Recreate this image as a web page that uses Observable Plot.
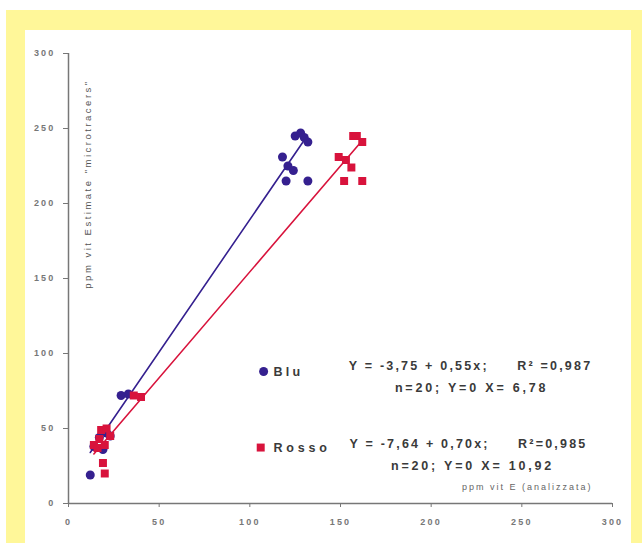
<!DOCTYPE html>
<html>
<head>
<meta charset="utf-8">
<script src="https://cdn.jsdelivr.net/npm/d3@7"></script>
<script src="https://cdn.jsdelivr.net/npm/@observablehq/plot@0.6"></script>
<style>
  html, body { margin: 0; padding: 0; background: #fff; }
  #wrap { position: relative; width: 642px; height: 543px; overflow: hidden; }
  #frame { position: absolute; left: 6px; top: 10px; width: 636px; height: 533px; background: #fff799; }
  #inner { position: absolute; left: 25px; top: 30px; width: 606px; height: 513px; background: #fff; }
  #chart { position: absolute; left: 0; top: 0; }
  #chart svg { background: transparent !important; }
  #chart svg g[aria-label="x-axis tick label"] text,
  #chart svg g[aria-label="y-axis tick label"] text { letter-spacing: 2.2px; }
</style>
</head>
<body>
<div id="wrap">
  <div id="frame"></div>
  <div id="inner"></div>
  <div id="chart"></div>
</div>
<script>
// --- data ---
const bluX = [12, 14, 17, 19, 21, 23, 29, 33, 118, 121, 124, 120, 132, 125, 128, 130, 132];
const bluY = [19, 38, 44, 36, 47, 45, 72, 73, 231, 225, 222, 215, 215, 245, 247, 244, 241];
const rossoX = [20, 19, 14, 16, 17, 18, 21, 23, 20, 36, 40, 149, 153, 156, 152, 162, 157, 159, 162];
const rossoY = [20, 27, 39, 37, 43, 49, 50, 45, 39, 72, 71, 231, 229, 224, 215, 215, 245, 245, 241];
// fitted lines (start, end)
const bluFitX = [12, 131];
const bluFitY = [34, 244];
const rossoFitX = [14, 162];
const rossoFitY = [33, 242];
const tickValues = [0, 50, 100, 150, 200, 250, 300];
const yLabel = 'ppm vit Estimate "microtracers"';
const xLabel = "ppm vit E (analizzata)";
const seriesNames = ["Blu", "Rosso"];
const eqBlu = ["Y = -3,75 + 0,55x;     R\u00b2 =0,987", "n=20; Y=0 X= 6,78"];
const eqRosso = ["Y = -7,64 + 0,70x;     R\u00b2=0,985", "n=20; Y=0 X= 10,92"];

const BLU = "#35208f";
const ROSSO = "#d8133c";

const blu = bluX.map((x, i) => ({x, y: bluY[i]}));
const rosso = rossoX.map((x, i) => ({x, y: rossoY[i]}));
const bluFit = bluFitX.map((x, i) => ({x, y: bluFitY[i]}));
const rossoFit = rossoFitX.map((x, i) => ({x, y: rossoFitY[i]}));

const txt = {fontFamily: "Liberation Sans, Arial, sans-serif", fontWeight: "bold", fill: "#3a3a3a", fontSize: 12.5};

const chart = Plot.plot({
  width: 642,
  height: 543,
  marginLeft: 68,
  marginRight: 30,
  marginTop: 53,
  marginBottom: 40,
  style: {background: "transparent", fontFamily: "Liberation Sans, Arial, sans-serif"},
  x: {domain: [0, 300]},
  y: {domain: [0, 300]},
  marks: [
    Plot.axisX({ticks: tickValues, tickSize: 4, tickPadding: 11, stroke: "#777", fill: "#777", fontSize: 9, fontWeight: "bold", label: null, tickFormat: d => d}),
    Plot.axisY({ticks: tickValues, tickSize: 5, tickPadding: 8, stroke: "#777", fill: "#777", fontSize: 9, fontWeight: "bold", label: null, tickFormat: d => d}),
    Plot.ruleY([0], {stroke: "#777", strokeWidth: 1.5}),
    Plot.ruleX([0], {stroke: "#777", strokeWidth: 1.5}),
    Plot.line(bluFit, {x: "x", y: "y", stroke: BLU, strokeWidth: 1.6}),
    Plot.line(rossoFit, {x: "x", y: "y", stroke: ROSSO, strokeWidth: 1.6}),
    Plot.dot(blu, {x: "x", y: "y", r: 4.5, fill: BLU, stroke: null}),
    Plot.dot(rosso, {x: "x", y: "y", r: 4.5, symbol: "square", fill: ROSSO, stroke: null}),
    // y-axis title (rotated, inside plot)
    Plot.text([yLabel], {x: 11, y: 213, text: d => d, rotate: -90, fontSize: 9.5, fill: "#555"}),
    // x-axis title
    Plot.text([xLabel], {x: 289, y: 10.7, text: d => d, textAnchor: "end", fontSize: 9, fill: "#666"}),
    // legend markers
    Plot.dot([seriesNames[0]], {x: 107.6, y: 88, r: 4.5, fill: BLU, stroke: null}),
    Plot.dot([seriesNames[1]], {x: 106, y: 37.3, r: 4.5, symbol: "square", fill: ROSSO, stroke: null}),
    Plot.text([seriesNames[0]], {x: 113, y: 88, text: d => d, textAnchor: "start", ...txt}),
    Plot.text([seriesNames[1]], {x: 113, y: 37.3, text: d => d, textAnchor: "start", ...txt}),
    // equations
    Plot.text([eqBlu[0], eqRosso[0]], {x: [221.7, 220.6], y: [92, 40], text: d => d, ...txt}),
    Plot.text([eqBlu[1], eqRosso[1]], {x: [222.3, 222.8], y: [77, 25], text: d => d, ...txt})
  ]
});

// letter spacing to mimic the wide bitmap font of the original
const spacing = new Map([
  [yLabel, 2.5], [xLabel, 2.0],
  [seriesNames[0], 3.3], [seriesNames[1], 3.8],
  [eqBlu[0], 2.2], [eqRosso[0], 2.2],
  [eqBlu[1], 2.8], [eqRosso[1], 2.8]
]);
d3.select(chart).selectAll("text").each(function() {
  const s = spacing.get(this.textContent);
  if (s != null) {
    this.setAttribute("letter-spacing", s);
    this.style.letterSpacing = s + "px";
    this.style.whiteSpace = "pre";
  }
});
document.getElementById("chart").appendChild(chart);
</script>
</body>
</html>
